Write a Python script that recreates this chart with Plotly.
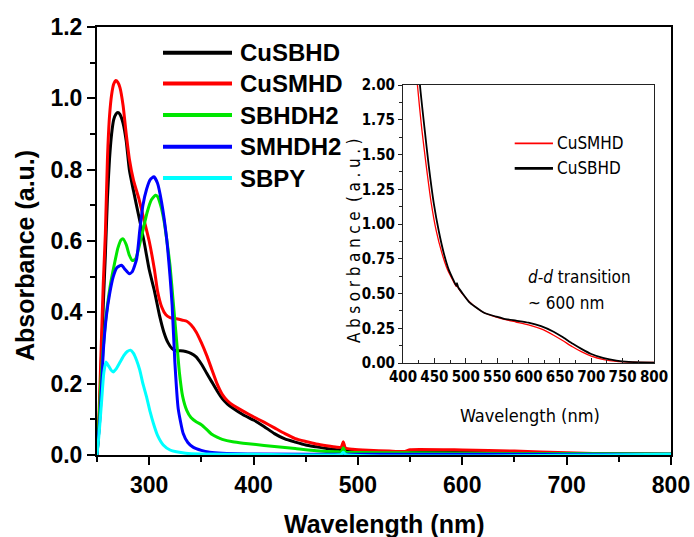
import plotly.graph_objects as go

# ---------------- main panel data (wavelength nm, absorbance a.u.) ----------------
wl_cusbhd = [250, 252, 254, 256, 258, 260, 262, 264, 266, 268, 270, 272, 275, 278, 281, 285, 290, 295,
             300, 305, 310, 314, 318, 322, 326, 330, 335, 340, 345, 350, 355, 360, 365, 370, 375, 380,
             390, 400, 410, 420, 430, 440, 450, 460, 470, 480, 484, 486, 488, 495, 510, 530, 550, 600,
             650, 700, 750, 800]
abs_cusbhd = [0.0, 0.08, 0.25, 0.42, 0.56, 0.72, 0.83, 0.9, 0.94, 0.955, 0.96, 0.955, 0.93, 0.88, 0.80,
              0.74, 0.67, 0.60, 0.52, 0.46, 0.39, 0.345, 0.315, 0.298, 0.292, 0.292, 0.29, 0.285, 0.275,
              0.255, 0.23, 0.205, 0.18, 0.158, 0.143, 0.132, 0.113, 0.098, 0.08, 0.06, 0.045, 0.036,
              0.028, 0.023, 0.018, 0.015, 0.015, 0.025, 0.013, 0.011, 0.009, 0.008, 0.009, 0.008, 0.006,
              0.004, 0.003, 0.002]

wl_cusmhd = [250, 252, 254, 256, 258, 260, 262, 264, 266, 268, 270, 272, 275, 278, 281, 285, 290, 295,
             300, 305, 308, 312, 316, 320, 326, 332, 336, 340, 345, 350, 355, 360, 365, 370, 375, 380,
             390, 400, 410, 420, 430, 440, 450, 460, 470, 480, 484, 486, 488, 495, 510, 530, 545, 550,
             600, 650, 700, 750, 800]
abs_cusmhd = [0.0, 0.12, 0.3, 0.48, 0.62, 0.83, 0.95, 1.01, 1.04, 1.05, 1.045, 1.03, 0.98, 0.9, 0.83,
              0.77, 0.72, 0.66, 0.60, 0.52, 0.46, 0.415, 0.393, 0.385, 0.382, 0.378, 0.375, 0.365, 0.345,
              0.315, 0.28, 0.24, 0.2, 0.17, 0.152, 0.14, 0.123, 0.107, 0.092, 0.076, 0.06, 0.046, 0.038,
              0.031, 0.026, 0.022, 0.022, 0.037, 0.02, 0.016, 0.013, 0.011, 0.01, 0.015, 0.014, 0.011,
              0.006, 0.003, 0.002]

wl_sbhdh2 = [250, 252, 254, 256, 258, 260, 263, 267, 270, 273, 275, 278, 281, 284, 287, 290, 294, 298,
             302, 306, 308, 311, 314, 317, 320, 323, 326, 329, 332, 336, 340, 345, 350, 355, 360, 365,
             370, 380, 390, 400, 420, 440, 460, 480, 484, 486, 488, 500, 550, 600, 700, 800]
abs_sbhdh2 = [0.0, 0.1, 0.22, 0.3, 0.37, 0.42, 0.48, 0.54, 0.58, 0.603, 0.606, 0.59, 0.56, 0.545, 0.55,
              0.58, 0.63, 0.68, 0.715, 0.728, 0.725, 0.7, 0.66, 0.6, 0.53, 0.43, 0.33, 0.23, 0.165,
              0.125, 0.105, 0.093, 0.085, 0.072, 0.058, 0.05, 0.044, 0.037, 0.033, 0.03, 0.024, 0.018,
              0.012, 0.009, 0.009, 0.02, 0.008, 0.007, 0.006, 0.005, 0.004, 0.003]

wl_smhdh2 = [250, 251, 253, 256, 259, 262, 265.6, 269, 273.5, 277, 281, 284, 288, 291, 294, 297.5, 301,
             304.5, 308, 311.8, 316.6, 320, 322, 324.6, 327.8, 332.6, 337, 342, 350, 358, 370, 400, 500,
             800]
abs_smhdh2 = [0.0, 0.04, 0.11, 0.29, 0.39, 0.45, 0.5, 0.525, 0.532, 0.52, 0.508, 0.515, 0.55, 0.63,
              0.7, 0.745, 0.772, 0.78, 0.762, 0.71, 0.61, 0.5, 0.42, 0.26, 0.13, 0.06, 0.035, 0.022,
              0.013, 0.008, 0.005, 0.003, 0.002, 0.002]

wl_sbpy = [250, 252, 254.4, 256.5, 258.6, 261, 263.5, 265.6, 268, 272, 276, 279, 282, 285, 288, 291,
           294, 297.5, 301, 304, 308, 313.5, 320, 326, 335, 350, 400, 484, 486, 488, 800]
abs_sbpy = [0.0, 0.06, 0.15, 0.23, 0.261, 0.25, 0.238, 0.233, 0.24, 0.26, 0.28, 0.29, 0.294, 0.285,
            0.265, 0.238, 0.2, 0.163, 0.12, 0.089, 0.055, 0.028, 0.014, 0.009, 0.005, 0.003, 0.002,
            0.002, 0.008, 0.002, 0.002]

# ---------------- inset data ----------------
inset_wl_cusmhd = [412, 418, 423, 430, 437, 445, 453, 462, 471, 480, 485, 486, 488, 495, 505, 515, 530,
                   549, 560, 580, 600, 620, 640, 655, 670, 685, 700, 720, 740, 760, 780, 800]
inset_abs_cusmhd = [2.9, 2.35, 2.0, 1.68, 1.42, 1.15, 0.95, 0.79, 0.67, 0.59, 0.55, 0.56, 0.54, 0.495,
                    0.445, 0.405, 0.36, 0.33, 0.315, 0.295, 0.275, 0.245, 0.2, 0.16, 0.117, 0.08, 0.05,
                    0.025, 0.012, 0.007, 0.005, 0.004]

inset_wl_cusbhd = [416, 421, 427, 434, 441, 449, 457, 465, 473, 480, 485, 486, 488, 495, 505, 515, 530,
                   549, 560, 580, 600, 620, 640, 655, 670, 685, 700, 720, 740, 760, 780, 800]
inset_abs_cusbhd = [2.9, 2.4, 2.0, 1.7, 1.42, 1.15, 0.95, 0.79, 0.67, 0.6, 0.555, 0.575, 0.545, 0.5,
                    0.44, 0.405, 0.36, 0.333, 0.32, 0.305, 0.29, 0.265, 0.225, 0.185, 0.14, 0.1, 0.065,
                    0.035, 0.017, 0.008, 0.005, 0.003]

series_names = ["CuSBHD", "CuSMHD", "SBHDH2", "SMHDH2", "SBPY"]
series_colors = ["#000000", "#ff0000", "#00e600", "#0000ff", "#00ffff"]
inset_names = ["CuSMHD", "CuSBHD"]
inset_colors = ["#ff0000", "#000000"]

BOLD = "Liberation Sans, Arial, sans-serif"
NARROW = "Liberation Sans Narrow, DejaVu Sans Condensed, Roboto Condensed, Roboto, sans-serif"

fig = go.Figure()
main_data = [(wl_cusbhd, abs_cusbhd), (wl_cusmhd, abs_cusmhd), (wl_sbhdh2, abs_sbhdh2),
             (wl_smhdh2, abs_smhdh2), (wl_sbpy, abs_sbpy)]
for (x, y), name, col in zip(main_data, series_names, series_colors):
    fig.add_trace(go.Scatter(x=x, y=y, name=name, mode="lines",
                             line=dict(color=col, width=3, shape="spline", smoothing=0.5),
                             showlegend=False, xaxis="x", yaxis="y"))

inset_data = [(inset_wl_cusmhd, inset_abs_cusmhd), (inset_wl_cusbhd, inset_abs_cusbhd)]
inset_widths = [1.3, 1.8]
for (x, y), name, col, w in zip(inset_data, inset_names, inset_colors, inset_widths):
    fig.add_trace(go.Scatter(x=x, y=y, name=name, mode="lines",
                             line=dict(color=col, width=w, shape="spline", smoothing=0.5),
                             showlegend=False, xaxis="x2", yaxis="y2"))

# plot geometry in pixels (for paper-coordinate placement of decorations)
L, R, T, B = 97, 671, 27, 455
W, H = 694, 537
def px(xp):
    return (xp - L) / (R - L)
def py(yp):
    return (B - yp) / (B - T)

shapes = []
annotations = []

# main legend (drawn)
leg_rows = [52.7, 83.5, 115, 146.7, 178]
for name, col, yr in zip(series_names, series_colors, leg_rows):
    shapes.append(dict(type="line", xref="paper", yref="paper", x0=px(163), x1=px(232),
                       y0=py(yr), y1=py(yr), line=dict(color=col, width=4)))
    annotations.append(dict(text=name, xref="paper", yref="paper", x=px(238), y=py(yr),
                            xanchor="left", yanchor="middle", showarrow=False,
                            font=dict(family=BOLD, size=24, color="black", weight="bold")))

# inset legend (drawn)
inset_leg_y = [1.58, 1.40]
for name, col, yv, w in zip(inset_names, inset_colors, inset_leg_y, [1.6, 2.6]):
    shapes.append(dict(type="line", xref="x2", yref="y2", x0=578, x1=639, y0=yv, y1=yv,
                       line=dict(color=col, width=w)))
    annotations.append(dict(text=name, xref="x2", yref="y2", x=642, y=yv, xanchor="left",
                            yanchor="middle", showarrow=False,
                            font=dict(family=NARROW, size=17, color="black")))

annotations.append(dict(text="<i>d-d</i> transition", xref="x2", yref="y2", x=596, y=0.62,
                        xanchor="left", yanchor="middle", showarrow=False,
                        font=dict(family=NARROW, size=17, color="black")))
annotations.append(dict(text="~ 600 nm", xref="x2", yref="y2", x=596, y=0.43,
                        xanchor="left", yanchor="middle", showarrow=False,
                        font=dict(family=NARROW, size=17, color="black")))

# axis titles
annotations.append(dict(text="Wavelength (nm)", xref="paper", yref="paper", x=px(384), y=py(524),
                        xanchor="center", yanchor="middle", showarrow=False,
                        font=dict(family=BOLD, size=25, color="black", weight="bold")))
annotations.append(dict(text="Absorbance (a.u.)", xref="paper", yref="paper", x=px(25), y=py(256),
                        xanchor="center", yanchor="middle", textangle=-90, showarrow=False,
                        font=dict(family=BOLD, size=25, color="black", weight="bold")))
annotations.append(dict(text="Wavelength (nm)", xref="paper", yref="paper", x=px(530), y=py(415),
                        xanchor="center", yanchor="middle", showarrow=False,
                        font=dict(family=NARROW, size=18, color="black")))
inset_ytitle = "Absorbance (a.u.)"
gap = "\u2009\u200a"
spaced = gap.join(ch for ch in inset_ytitle if ch != " ").replace("e" + gap + "(", "e " + gap + "(")
annotations.append(dict(text=spaced, xref="paper", yref="paper",
                        x=px(354), y=py(241), xanchor="center", yanchor="middle", textangle=-90,
                        showarrow=False, font=dict(family=NARROW, size=17, color="black")))

fig.update_layout(
    width=W, height=H, autosize=False,
    margin=dict(l=L, r=W - R, t=T, b=H - B, pad=0, autoexpand=False),
    paper_bgcolor="white", plot_bgcolor="white",
    showlegend=False,
    shapes=shapes, annotations=annotations,
    xaxis=dict(domain=[0, 1], range=[250, 800], tickmode="linear", tick0=300, dtick=100,
               ticks="outside", ticklen=8, tickwidth=2, tickcolor="black",
               showline=True, linewidth=2, linecolor="black", mirror=True,
               showgrid=False, zeroline=False, automargin=False,
               minor=dict(tickmode="linear", tick0=250, dtick=50, ticks="outside", ticklen=5,
                          tickwidth=2, tickcolor="black", showgrid=False),
               tickfont=dict(family=BOLD, size=23, color="black", weight="bold")),
    yaxis=dict(domain=[0, 1], range=[0, 1.2], tickmode="linear", tick0=0, dtick=0.2,
               tickformat=".1f", automargin=False,
               ticks="outside", ticklen=8, tickwidth=2, tickcolor="black",
               showline=True, linewidth=2, linecolor="black", mirror=True,
               showgrid=False, zeroline=False,
               minor=dict(tickmode="linear", tick0=0, dtick=0.1, ticks="outside", ticklen=5,
                          tickwidth=2, tickcolor="black", showgrid=False),
               tickfont=dict(family=BOLD, size=23, color="black", weight="bold")),
    xaxis2=dict(domain=[px(403), px(654)], anchor="y2", range=[400, 800], tickmode="linear",
                tick0=400, dtick=50, ticks="inside", ticklen=5, tickwidth=1, tickcolor="#222",
                showline=True, linewidth=1, linecolor="#222", mirror=True,
                showgrid=False, zeroline=False, automargin=False,
                minor=dict(tickmode="linear", tick0=400, dtick=25, ticks="inside", ticklen=3,
                           tickwidth=1, tickcolor="#222", showgrid=False),
                tickfont=dict(family=NARROW, size=15, color="black", weight="bold")),
    yaxis2=dict(domain=[py(363), py(85)], anchor="x2", range=[0, 2], tickmode="linear",
                tick0=0, dtick=0.25, tickformat=".2f", automargin=False,
                ticks="outside", ticklen=4, tickwidth=1, tickcolor="#222",
                showline=True, linewidth=1, linecolor="#222", mirror=True,
                showgrid=False, zeroline=False,
                minor=dict(tickmode="linear", tick0=0, dtick=0.125, ticks="outside", ticklen=3,
                           tickwidth=1, tickcolor="#222", showgrid=False),
                tickfont=dict(family=NARROW, size=15, color="black", weight="bold")),
)

fig.write_html("out.html")
